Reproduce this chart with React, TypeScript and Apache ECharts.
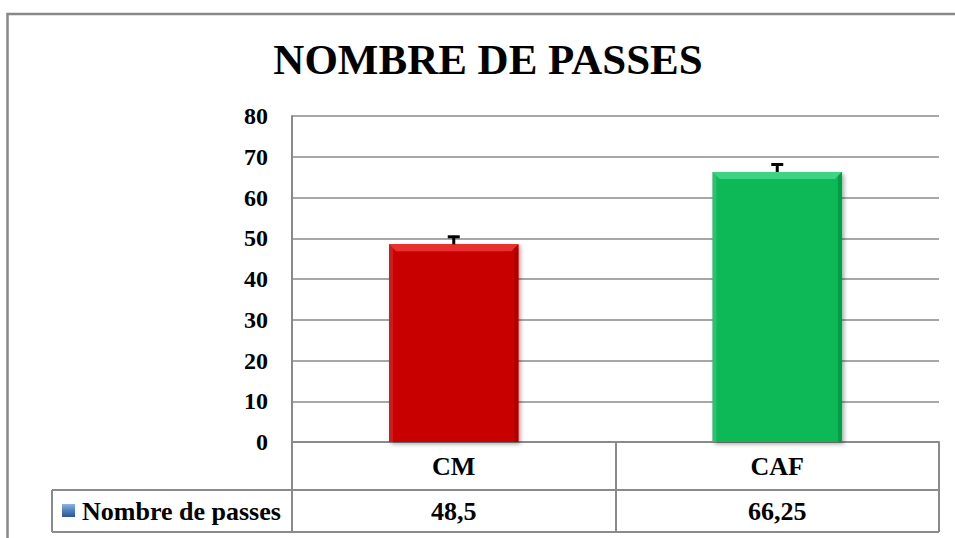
import React, { useEffect, useRef } from "react";
import * as echarts from "echarts";

const titleText = "NOMBRE DE PASSES";
const categories = ["CM", "CAF"];
const values = [48.5, 66.25];
const errors = [2.1, 2.1];
const seriesName = "Nombre de passes";
const yMin = 0;
const yMax = 80;
const yStep = 10;

const barColors = ["#C80000", "#0BB857"];
const bevelTop = ["#E83030", "#3ED283"];
const bevelSide = ["#9A0000", "#078F42"];

const FONT = "Liberation Serif";
const GRID = { left: 292, right: 16, top: 116, bottom: 96 };
const GRAY = "#8a8a8a";

const fmt = (v: number) => String(v).replace(".", ",");

export default function App() {
  const ref = useRef<HTMLDivElement>(null);
  useEffect(() => {
    document.body.style.margin = "0";
    if (!ref.current) return;
    const chart = echarts.init(ref.current, undefined, { renderer: "svg" });
    const rowTop = 538 - GRID.bottom + 48;
    const rowBottom = 532;
    const rightX = 955 - GRID.right;
    const tableLeft = 52;
    chart.setOption({
      animation: false,
      backgroundColor: "#ffffff",
      textStyle: { fontFamily: FONT },
      grid: { ...GRID },
      xAxis: {
        type: "category",
        data: categories,
        axisLine: { show: true, lineStyle: { color: GRAY, width: 2 } },
        axisTick: { show: true, interval: 0, length: rowBottom - (538 - GRID.bottom), lineStyle: { color: GRAY, width: 2 } },
        axisLabel: {
          fontFamily: FONT,
          fontSize: 26,
          fontWeight: "bold",
          color: "#000",
          margin: 24,
          verticalAlign: "middle",
        },
        splitLine: { show: false },
      },
      yAxis: {
        type: "value",
        min: yMin,
        max: yMax,
        interval: yStep,
        axisLine: { show: true, lineStyle: { color: GRAY, width: 2 } },
        axisTick: { show: false },
        splitLine: { show: true, lineStyle: { color: GRAY, width: 1.5 } },
        axisLabel: { fontFamily: FONT, fontSize: 24, fontWeight: "bold", color: "#000", margin: 24 },
      },
      series: [
        {
          type: "bar",
          name: seriesName,
          barWidth: "40%",
          data: values.map((v, i) => ({
            value: v,
            itemStyle: {
              color: barColors[i],
              shadowBlur: 4,
              shadowColor: "rgba(0,0,0,0.35)",
              shadowOffsetX: 2,
              shadowOffsetY: 2,
            },
          })),
          z: 2,
        },
        {
          type: "custom",
          name: "bevel",
          z: 3,
          silent: true,
          data: values.map((v, i) => [i, v]),
          renderItem: (params: any, api: any) => {
            const i = api.value(0);
            const v = api.value(1);
            const top = api.coord([i, v]);
            const base = api.coord([i, 0]);
            const w = api.size([1, 0])[0] * 0.4;
            const x0 = top[0] - w / 2;
            const x1 = top[0] + w / 2;
            const y0 = top[1];
            const y1 = base[1];
            const b = 7;
            return {
              type: "group",
              children: [
                {
                  type: "polygon",
                  shape: { points: [[x0, y0], [x1, y0], [x1 - b, y0 + b], [x0 + b, y0 + b]] },
                  style: { fill: bevelTop[i] },
                },
                {
                  type: "polygon",
                  shape: { points: [[x1, y0], [x1, y1], [x1 - 4, y1], [x1 - 4, y0 + 4]] },
                  style: { fill: bevelSide[i], opacity: 0.7 },
                },
                {
                  type: "polygon",
                  shape: { points: [[x0, y0], [x0 + 4, y0 + 4], [x0 + 4, y1], [x0, y1]] },
                  style: { fill: bevelTop[i], opacity: 0.5 },
                },
              ],
            };
          },
        },
        {
          type: "custom",
          name: "errors",
          z: 4,
          silent: true,
          data: values.map((v, i) => [i, v, errors[i]]),
          renderItem: (params: any, api: any) => {
            const i = api.value(0);
            const v = api.value(1);
            const e = api.value(2);
            const p0 = api.coord([i, v]);
            const p1 = api.coord([i, v + e]);
            return {
              type: "group",
              children: [
                {
                  type: "line",
                  shape: { x1: p0[0], y1: p0[1], x2: p1[0], y2: p1[1] },
                  style: { stroke: "#000", lineWidth: 3 },
                },
                {
                  type: "line",
                  shape: { x1: p1[0] - 6, y1: p1[1] + 1, x2: p1[0] + 6, y2: p1[1] + 1 },
                  style: { stroke: "#000", lineWidth: 3 },
                },
              ],
            };
          },
        },
        {
          type: "custom",
          name: "table",
          z: 5,
          silent: true,
          data: values.map((v, i) => [i, v]),
          renderItem: (params: any, api: any) => {
            const i = api.value(0);
            const v = api.value(1);
            const c = api.coord([i, 0]);
            return {
              type: "text",
              x: c[0],
              y: (rowTop + rowBottom) / 2,
              style: {
                text: fmt(v),
                fontFamily: FONT,
                fontSize: 26,
                fontWeight: "bold",
                fill: "#000",
                align: "center",
                verticalAlign: "middle",
              },
            };
          },
        },
      ],
      graphic: [
        {
          type: "rect",
          shape: { x: 7.5, y: 14, width: 1100, height: 700 },
          style: { fill: "none", stroke: "#888", lineWidth: 2.5 },
          silent: true,
          z: 0,
        },
        {
          type: "text",
          x: 488,
          y: 59,
          style: {
            text: titleText,
            fontFamily: FONT,
            fontSize: 43,
            fontWeight: "bold",
            fill: "#000",
            align: "center",
            verticalAlign: "middle",
          },
        },
        {
          type: "line",
          shape: { x1: tableLeft, y1: rowTop, x2: rightX, y2: rowTop },
          style: { stroke: GRAY, lineWidth: 2 },
        },
        {
          type: "line",
          shape: { x1: tableLeft, y1: rowBottom, x2: rightX, y2: rowBottom },
          style: { stroke: GRAY, lineWidth: 2 },
        },
        {
          type: "line",
          shape: { x1: tableLeft, y1: rowTop, x2: tableLeft, y2: rowBottom },
          style: { stroke: GRAY, lineWidth: 2 },
        },
        {
          type: "rect",
          shape: { x: 62, y: 504, width: 13, height: 13 },
          style: {
            fill: new echarts.graphic.LinearGradient(0, 0, 0, 1, [
              { offset: 0, color: "#8DB3E2" },
              { offset: 0.5, color: "#4F81BD" },
              { offset: 1, color: "#2C5593" },
            ]),
          },
        },
        {
          type: "text",
          x: 82,
          y: (rowTop + rowBottom) / 2,
          style: {
            text: seriesName,
            fontFamily: FONT,
            fontSize: 26,
            fontWeight: "bold",
            fill: "#000",
            align: "left",
            verticalAlign: "middle",
          },
        },
      ],
    });
    return () => chart.dispose();
  }, []);
  return <div ref={ref} style={{ width: 955, height: 538 }} />;
}
